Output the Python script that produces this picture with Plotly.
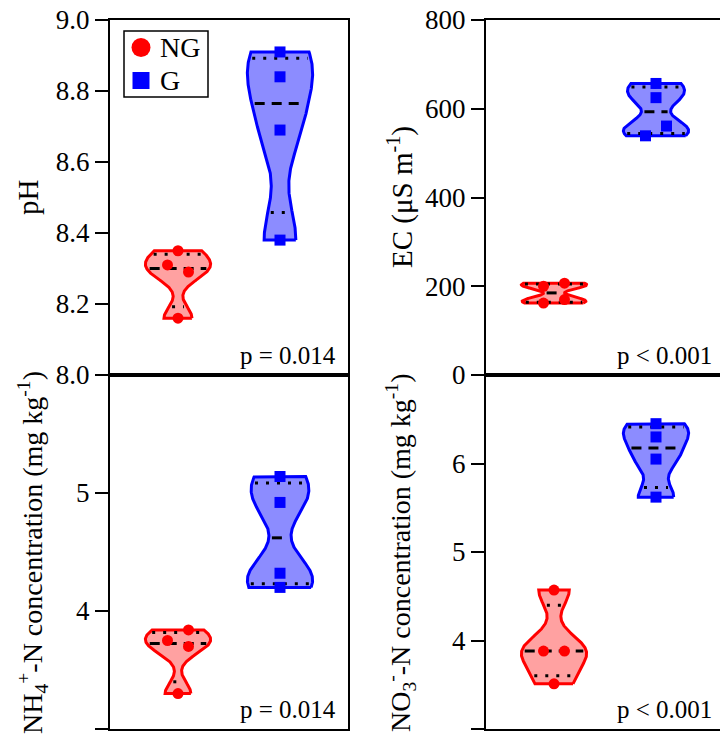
import numpy as np
import plotly.graph_objects as go

# ---------------- data ----------------
categories = ["NG", "G"]

ph_ng = [8.35, 8.29, 8.31, 8.16]
ph_g = [8.91, 8.84, 8.69, 8.38]
ec_ng = [207, 200, 170, 162]
ec_g = [657, 625, 561, 539]
nh4_ng = [3.84, 3.75, 3.70, 3.30]
nh4_g = [5.14, 4.92, 4.32, 4.20]
no3_ng = [4.57, 3.88, 3.88, 3.51]
no3_g = [6.45, 6.30, 6.05, 5.62]

ph_ticks = [8.0, 8.2, 8.4, 8.6, 8.8, 9.0]
ph_ticklabels = ["8.0", "8.2", "8.4", "8.6", "8.8", "9.0"]
ec_ticks = [0, 200, 400, 600, 800]
ec_ticklabels = ["0", "200", "400", "600", "800"]
nh4_ticks = [3, 4, 5, 6]
nh4_ticklabels = ["", "4", "5", ""]
no3_ticks = [3, 4, 5, 6, 7]
no3_ticklabels = ["", "4", "5", "6", ""]

p_labels = ["p = 0.014", "p < 0.001", "p = 0.014", "p < 0.001"]
y_titles = [
    "pH",
    "EC (μS m<sup>-1</sup>)",
    "NH<sub>4</sub><sup>+</sup>-N concentration (mg kg<sup>-1</sup>)",
    "NO<sub>3</sub><sup>-</sup>-N concentration (mg kg<sup>-1</sup>)",
]

# ---------------- layout constants ----------------
W, H = 720, 742
FONT = "Liberation Serif"
LEFT_X = (110, 348)
RIGHT_X = (486, 720)
TOP_Y = (20, 375)
BOT_Y = (375, 729)
XMIN = -2 / 3
PX_PER_X = (LEFT_X[1] - LEFT_X[0]) / (7 / 3)
VIOLIN_W = 0.64
MARKER = 11
BW_SCALE = 0.6
LEGEND_BOX = (124, 31, 208, 97)

RED, RED_FILL = "#ff0000", "rgba(255,0,0,0.37)"
BLUE, BLUE_FILL = "#0000ff", "rgba(0,0,255,0.45)"

panels = [
    dict(ax="", xs=LEFT_X, ys=TOP_Y, data=(ph_ng, ph_g), yr=[8.0, 9.0], tsize=29,
         tv=ph_ticks, tt=ph_ticklabels, mirror=True, title=y_titles[0], tpos=(28, 197), p=p_labels[0]),
    dict(ax="2", xs=RIGHT_X, ys=TOP_Y, data=(ec_ng, ec_g), yr=[0, 800], tsize=29,
         tv=ec_ticks, tt=ec_ticklabels, mirror=False, title=y_titles[1], tpos=(400, 197), p=p_labels[1]),
    dict(ax="3", xs=LEFT_X, ys=BOT_Y, data=(nh4_ng, nh4_g), yr=[3, 6], tsize=28,
         tv=nh4_ticks, tt=nh4_ticklabels, mirror=True, title=y_titles[2], tpos=(32, 553), p=p_labels[2]),
    dict(ax="4", xs=RIGHT_X, ys=BOT_Y, data=(no3_ng, no3_g), yr=[3, 7], tsize=28,
         tv=no3_ticks, tt=no3_ticklabels, mirror=False, title=y_titles[3], tpos=(400, 553), p=p_labels[3]),
]


def kde_shape(vals, width):
    v = np.asarray(vals, float)
    n = len(v)
    q1, med, q3 = np.percentile(v, [25, 50, 75], method="weibull")
    sd = v.std(ddof=1)
    bw = BW_SCALE * 0.9 * min(sd, (q3 - q1) / 1.34) * n ** -0.2
    ys = np.linspace(v.min(), v.max(), 240)
    def dens(y):
        y = np.atleast_1d(y)
        return np.exp(-0.5 * ((y[:, None] - v[None, :]) / bw) ** 2).sum(1)
    d = dens(ys)
    scale = (width / 2) / d.max()
    hw = d * scale
    qhw = dens(np.array([q1, med, q3])) * scale
    return ys, hw, (q1, med, q3), qhw


def jitter(vals, thresh, d):
    v = np.asarray(vals, float)
    order = np.argsort(-v, kind="stable")
    groups, cur = [], [order[0]]
    for a, b in zip(order[:-1], order[1:]):
        if v[a] - v[b] < thresh:
            cur.append(b)
        else:
            groups.append(cur)
            cur = [b]
    groups.append(cur)
    off = np.zeros(len(v))
    for g in groups:
        if len(g) > 1:
            for k, i in enumerate(sorted(g)):
                off[i] = d if k % 2 == 0 else -d
    return off


fig = go.Figure()
annotations = []
shapes = []
layout_axes = {}

for P in panels:
    xa, ya = "x" + P["ax"], "y" + P["ax"]
    ypx = P["ys"][1] - P["ys"][0]
    px_per_y = ypx / (P["yr"][1] - P["yr"][0])
    for ci, (vals, col, fill, sym) in enumerate(zip(P["data"], (RED, BLUE), (RED_FILL, BLUE_FILL),
                                                     ("circle", "square"))):
        c = ci
        ys, hw, qs, qhw = kde_shape(vals, VIOLIN_W)
        px = np.concatenate([c + hw, (c - hw)[::-1], [c + hw[0]]])
        py = np.concatenate([ys, ys[::-1], [ys[0]]])
        fig.add_trace(go.Scatter(x=px, y=py, xaxis=xa, yaxis=ya, mode="lines", fill="toself",
                                 fillcolor=fill, line=dict(color=col, width=3),
                                 showlegend=False, hoverinfo="skip"))
        for q, h, dash in zip(qs, qhw, ("3px,8px", "10px,7px", "3px,8px")):
            inset = 0.03
            fig.add_trace(go.Scatter(x=[c - h + inset, c + h - inset], y=[q, q], xaxis=xa, yaxis=ya,
                                     mode="lines", line=dict(color="black", width=3, dash=dash),
                                     showlegend=False, hoverinfo="skip"))
        off = jitter(vals, 12 / px_per_y, 10.5 / PX_PER_X)
        fig.add_trace(go.Scatter(x=c + off, y=vals, xaxis=xa, yaxis=ya, mode="markers",
                                 marker=dict(symbol=sym, size=MARKER, color=col, line=dict(width=0)),
                                 showlegend=False, name=categories[ci]))
    xmax = XMIN + (P["xs"][1] - P["xs"][0]) / PX_PER_X
    layout_axes["xaxis" + P["ax"]] = dict(
        domain=[P["xs"][0] / W, P["xs"][1] / W], range=[XMIN, xmax], anchor=ya,
        showline=True, linewidth=2, linecolor="black", mirror=True, showticklabels=False,
        ticks="", showgrid=False, zeroline=False, fixedrange=True, automargin=False)
    layout_axes["yaxis" + P["ax"]] = dict(
        domain=[1 - P["ys"][1] / H, 1 - P["ys"][0] / H], range=P["yr"], anchor=xa,
        showline=True, linewidth=2, linecolor="black", mirror=P["mirror"],
        ticks="outside", ticklen=13, tickwidth=2, tickcolor="black",
        tickvals=P["tv"], ticktext=P["tt"], tickfont=dict(family=FONT, size=27, color="black"),
        showgrid=False, zeroline=False, fixedrange=True, automargin=False)
    annotations.append(dict(text=P["title"], textangle=-90, xref="paper", yref="paper",
                            x=P["tpos"][0] / W, y=1 - P["tpos"][1] / H, xanchor="center", yanchor="middle",
                            showarrow=False, font=dict(family=FONT, size=P["tsize"], color="black")))
    annotations.append(dict(text=P["p"], xref="paper", yref="paper",
                            x=(P["xs"][0] + 228) / W, y=1 - (P["ys"][1] - 20) / H,
                            xanchor="right", yanchor="middle", showarrow=False,
                            font=dict(family=FONT, size=25, color="black")))

# ---- manual legend (overlay axis in pixel units) ----
layout_axes["xaxis5"] = dict(domain=[0, 1], range=[0, W], visible=False, fixedrange=True,
                             anchor="y5", automargin=False)
layout_axes["yaxis5"] = dict(domain=[0, 1], range=[H, 0], visible=False, fixedrange=True,
                             anchor="x5", automargin=False)
bx0, by0, bx1, by1 = LEGEND_BOX
shapes.append(dict(type="rect", xref="x5", yref="y5", x0=bx0, y0=by0, x1=bx1, y1=by1,
                   line=dict(color="black", width=1.5), fillcolor="rgba(0,0,0,0)", layer="above"))
row_h = (by1 - by0) / len(categories)
for i, (name, col, sym, sz) in enumerate(zip(categories, (RED, BLUE), ("circle", "square"), (19, 17))):
    yc = by0 + row_h * (i + 0.5)
    fig.add_trace(go.Scatter(x=[bx0 + 17], y=[yc], xaxis="x5", yaxis="y5", mode="markers",
                             marker=dict(symbol=sym, size=sz, color=col, line=dict(width=0)),
                             showlegend=False, hoverinfo="skip"))
    annotations.append(dict(text=name, xref="x5", yref="y5", x=bx0 + 34, y=yc,
                            xanchor="left", yanchor="middle", showarrow=False,
                            font=dict(family=FONT, size=28, color="black")))

fig.update_layout(
    template="none",
    width=W, height=H, margin=dict(l=0, r=0, t=0, b=0, pad=0, autoexpand=False),
    paper_bgcolor="white", plot_bgcolor="rgba(0,0,0,0)",
    font=dict(family=FONT, color="black"),
    showlegend=False,
    annotations=annotations,
    shapes=shapes,
    **layout_axes,
)

fig.write_html("out.html", config={"displayModeBar": False},
               post_script="document.body.style.margin='0';document.body.style.overflow='hidden';")
